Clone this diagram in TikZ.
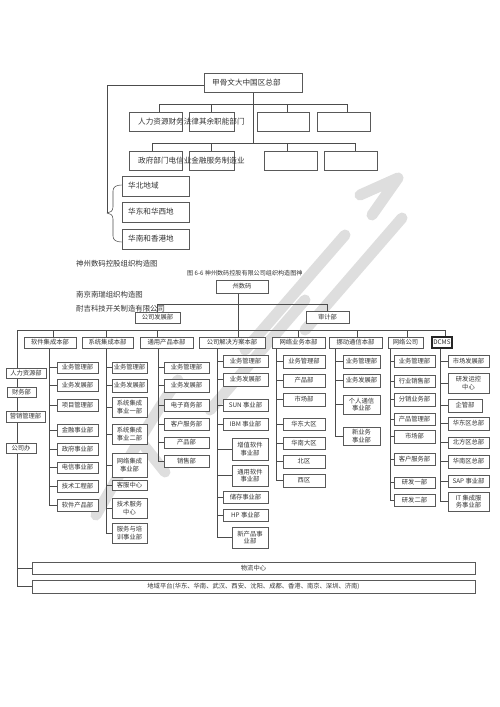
\documentclass[tikz,border=0pt]{standalone}
\usepackage{fontspec}
\setmainfont{Noto Sans CJK SC}
\pgfdeclarelayer{bg}
\pgfsetlayers{bg,main}
\tikzset{
 bx/.style={draw=black!65,line width=0.65pt,fill=white,inner sep=0pt,font=\fontsize{6.3}{7.6}\selectfont,align=center,text=black!80},
 ln/.style={draw=black!70,line width=0.55pt},
 tx/.style={inner sep=0pt,anchor=west,text=black!80},
 big/.style={font=\fontsize{7.6}{9}\selectfont},
 wm/.style={draw=black!13,line width=11pt,line cap=round,line join=round}
}
\newcommand\Bx[7][]{\node[bx,minimum width={(#5-#3)*1pt},minimum height={(#6-#4)*1pt},#1] (#2) at ({(#3+#5)/2},{(#4+#6)/2}) {#7};}
\begin{document}
\begin{tikzpicture}[x=1pt,y=-1pt]
\useasboundingbox (0,0) rectangle (500,707);
% ---------- top section ----------
\Bx{T0}{204}{73}{302}{92}{}
\node[tx,big] (T0t) at (212,82.5) {甲骨文大中国区总部};
\Bx{r11}{129}{112}{182}{131}{}
\Bx{r12}{189}{112}{234}{131}{}
\Bx{r13}{257}{112}{309}{131}{}
\Bx{r14}{317}{112}{370}{131}{}
\Bx{r21}{129}{151}{182}{170}{}
\Bx{r22}{189}{151}{234}{170}{}
\Bx{r23}{264}{151}{317}{170}{}
\Bx{r24}{324}{151}{377}{170}{}
\node[tx,big] (r1t) at (138,121.5) {人力资源财务法律其余职能部门};
\node[tx,big] (r2t) at (138,160.5) {政府部门电信业金融服务制造业};
\Bx{g1}{122}{176}{189}{196}{}
\Bx{g2}{122}{202}{189}{222}{}
\Bx{g3}{122}{229}{189}{249}{}
\node[tx,big] (g1t) at (128,186) {华北地域};
\node[tx,big] (g2t) at (128,212) {华东和华西地};
\node[tx,big] (g3t) at (128,239) {华南和香港地};
\coordinate (b1) at (0,104);
\coordinate (b2) at (0,143);
\coordinate (bt) at (107,213);
% ---------- middle texts ----------
\node[tx,font=\fontsize{7.4}{9}\selectfont] (h1) at (76,264) {神州数码控股组织构造图};
\node[tx,font=\fontsize{6.1}{8}\selectfont] (h2) at (187,273.5) {图 6-6 神州数码控股有限公司组织构造图神};
\node[tx,font=\fontsize{7.4}{9}\selectfont] (h3) at (76,295) {南京南瑞组织构造图};
\node[tx,font=\fontsize{7.4}{9}\selectfont] (h4) at (76,309) {耐吉科技开关制造有限公司};
\Bx{Z}{216}{280}{268}{293}{州数码}
\Bx{D1}{135}{312}{180}{323}{公司发展部}
\Bx{D2}{306}{311}{349}{323}{审计部}
\coordinate (mb) at (0,304);
% ---------- level 1 ----------
\Bx{a1}{24}{337}{76}{348}{软件集成本部}
\Bx{a2}{82}{337}{133}{348}{系统集成本部}
\Bx{a3}{140}{337}{193}{348}{通用产品本部}
\Bx{a4}{199}{337}{265}{348}{公司解决方案本部}
\Bx{a5}{272}{337}{325}{348}{网络业务本部}
\Bx{a6}{329}{337}{382}{348}{挪动通信本部}
\Bx{a7}{388}{337}{423}{348}{网络公司}
\Bx[line width=1.1pt,draw=black!85]{a8}{432}{337}{452}{348}{DCMS}
\coordinate (busL) at (17,330);
\coordinate (busR) at (445,330);
\foreach \n/\x in {u1/53,u2/106,u3/157,u4/238,u5/298,u6/357,u7/407,u8/445} \coordinate (\n) at (\x,0);
% staff
\Bx{s1}{6}{368}{46}{378}{人力资源部}
\Bx{s2}{7}{387}{36}{397}{财务部}
\Bx{s3}{6}{411}{45}{422}{营销管理部}
\Bx{s4}{6}{443}{36}{453}{公司办}
% col1
\Bx{k11}{57}{362}{98}{373}{业务管理部}
\Bx{k12}{57}{379}{98}{391}{业务发展部}
\Bx{k13}{57}{399}{98}{411}{项目管理部}
\Bx{k14}{57}{424}{98}{436}{金融事业部}
\Bx{k15}{57}{443}{98}{455}{政府事业部}
\Bx{k16}{57}{462}{98}{473}{电信事业部}
\Bx{k17}{57}{480}{98}{492}{技术工程部}
\Bx{k18}{57}{499}{98}{511}{软件产品部}
% col2
\Bx{k21}{112}{362}{147}{373}{业务管理部}
\Bx{k22}{112}{379}{147}{392}{业务发展部}
\Bx{k23}{112}{397}{147}{417}{系统集成\\事业一部}
\Bx{k24}{112}{424}{147}{444}{系统集成\\事业二部}
\Bx{k25}{112}{453}{147}{477}{网络集成\\事业部}
\Bx{k26}{112}{480}{147}{490}{客服中心}
\Bx{k27}{112}{498}{147}{518}{技术服务\\中心}
\Bx{k28}{112}{523}{147}{543}{服务与培\\训事业部}
% col3
\Bx{k31}{164}{362}{209}{373}{业务管理部}
\Bx{k32}{164}{379}{209}{392}{业务发展部}
\Bx{k33}{164}{399}{209}{411}{电子商务部}
\Bx{k34}{164}{418}{209}{430}{客户服务部}
\Bx{k35}{164}{437}{209}{448}{产品部}
\Bx{k36}{164}{455}{209}{467}{销售部}
% col4
\Bx{k41}{223}{355}{268}{367}{业务管理部}
\Bx{k42}{223}{373}{268}{386}{业务发展部}
\Bx{k43}{223}{399}{268}{411}{SUN 事业部}
\Bx{k44}{223}{418}{268}{430}{IBM 事业部}
\Bx{k45}{232}{438}{268}{460}{增值软件\\事业部}
\Bx{k46}{232}{465}{268}{486}{通用软件\\事业部}
\Bx{k47}{223}{491}{268}{503}{储存事业部}
\Bx{k48}{223}{509}{268}{521}{HP 事业部}
\Bx{k49}{232}{527}{268}{548}{新产品事\\业部}
% col5
\Bx{k51}{283}{355}{325}{368}{业务管理部}
\Bx{k52}{283}{374}{325}{387}{产品部}
\Bx{k53}{283}{393}{325}{406}{市场部}
\Bx{k54}{283}{418}{325}{430}{华东大区}
\Bx{k55}{283}{437}{325}{449}{华南大区}
\Bx{k56}{283}{455}{325}{468}{北区}
\Bx{k57}{283}{474}{325}{487}{西区}
% col6
\Bx{k61}{343}{355}{380}{368}{业务管理部}
\Bx{k62}{343}{374}{380}{387}{业务发展部}
\Bx{k63}{343}{395}{380}{414}{个人通信\\事业部}
\Bx{k64}{343}{427}{380}{445}{新业务\\事业部}
% col7
\Bx{k71}{394}{355}{435}{367}{业务管理部}
\Bx{k72}{394}{375}{435}{387}{行业销售部}
\Bx{k73}{394}{393}{435}{406}{分销业务部}
\Bx{k74}{394}{413}{435}{425}{产品管理部}
\Bx{k75}{394}{430}{435}{443}{市场部}
\Bx{k76}{394}{453}{435}{465}{客户服务部}
\Bx{k77}{394}{477}{435}{488}{研发一部}
\Bx{k78}{394}{494}{435}{506}{研发二部}
% col8
\Bx{k81}{448}{355}{489}{367}{市场发展部}
\Bx{k82}{448}{373}{489}{393}{研发运控\\中心}
\Bx{k83}{448}{399}{482}{412}{企管部}
\Bx{k84}{448}{417}{489}{430}{华东区总部}
\Bx{k85}{448}{437}{489}{448}{北方区总部}
\Bx{k86}{448}{455}{489}{468}{华南区总部}
\Bx{k87}{448}{475}{489}{487}{SAP 事业部}
\Bx{k88}{448}{492}{489}{511}{IT 集成服\\务事业部}
% bottom
\Bx{w1}{32}{562}{475}{574}{物流中心}
\Bx{w2}{32}{580}{475}{593}{地域平台(华东、华南、武汉、西安、沈阳、成都、香港、南京、深圳、济南)}
\foreach \n/\x in {t1/49,t2/106,t3/158,t4/217,t5/276,t6/335,t7/390,t8/440} \coordinate (\n) at (\x,0);
% ---------- background: watermark + connectors ----------
\begin{pgfonlayer}{bg}
\draw[wm] (360,195) -- (398,178) -- (372,215);
\draw[wm] (402,218) -- (305,330);
\draw[wm] (345,235) -- (245,350);
\draw[wm] (305,300) -- (210,410);
\draw[wm] (178,380) .. controls (150,420) and (122,470) .. (96,515);
\draw[wm] (138,438) -- (165,472);
% top
\draw[ln] (T0.south) -- (T0.south |- b2);
\draw[ln] (r11.north -| {159,0}) -- ({159,0} |- b1) -- ({347,0} |- b1) -- (r14.north -| {347,0});
\draw[ln] (r12.north) -- (r12.north |- b1);
\draw[ln] (r13.north -| {287,0}) -- ({287,0} |- b1);
\draw[ln] (r21.north -| {152,0}) -- ({152,0} |- b2) -- ({355,0} |- b2) -- (r24.north -| {355,0});
\draw[ln] (r22.north) -- (r22.north |- b2);
\draw[ln] (r23.north -| {287,0}) -- ({287,0} |- b2);
\draw[ln] (T0.west |- {0,85}) -| (bt);
\draw[ln] (bt) .. controls (110,213) and (113,211) .. (113,207) -- (113,191) .. controls (113,187) and (116,185) .. (g1.west |- {0,185});
\draw[ln] (bt) .. controls (110,213) and (113,215) .. (113,219) -- (113,236) .. controls (113,240) and (116,242) .. (g3.west |- {0,242});
% middle
\draw[ln] (Z.south -| u4) -- (a4.north -| u4);
\draw[ln] (D1.north) -- (D1.north |- mb) -- (D2.north |- mb) -- (D2.north);
\draw[ln] (busL) -- (busR);
\foreach \u/\a in {u1/a1,u2/a2,u3/a3,u5/a5,u6/a6,u7/a7,u8/a8} \draw[ln] (\a.north -| \u) -- (\u |- busL);
\draw[ln] (busL) |- (w2.west);
\draw[ln] (busL |- w1.west) -- (w1.west);
% columns
\foreach \k in {k11,k12,k13,k14,k15,k16,k17,k18} \draw[ln] (a1.south -| t1) |- (\k.west);
\foreach \k in {k21,k22,k23,k24,k25,k26,k27,k28} \draw[ln] (a2.south -| t2) |- (\k.west);
\foreach \k in {k31,k32,k33,k34,k35,k36} \draw[ln] (a3.south -| t3) |- (\k.west);
\foreach \k in {k41,k42,k43,k44,k45,k46,k47,k48,k49} \draw[ln] (a4.south -| t4) |- (\k.west);
\foreach \k in {k51,k52,k53,k54,k55,k56,k57} \draw[ln] (a5.south -| t5) |- (\k.west);
\foreach \k in {k61,k62,k63,k64} \draw[ln] (a6.south -| t6) |- (\k.west);
\foreach \k in {k71,k72,k73,k74,k75,k76,k77,k78} \draw[ln] (a7.south -| t7) |- (\k.west);
\foreach \k in {k81,k82,k83,k84,k85,k86,k87,k88} \draw[ln] (a8.south -| t8) |- (\k.west);
\end{pgfonlayer}
\end{tikzpicture}
\end{document}
